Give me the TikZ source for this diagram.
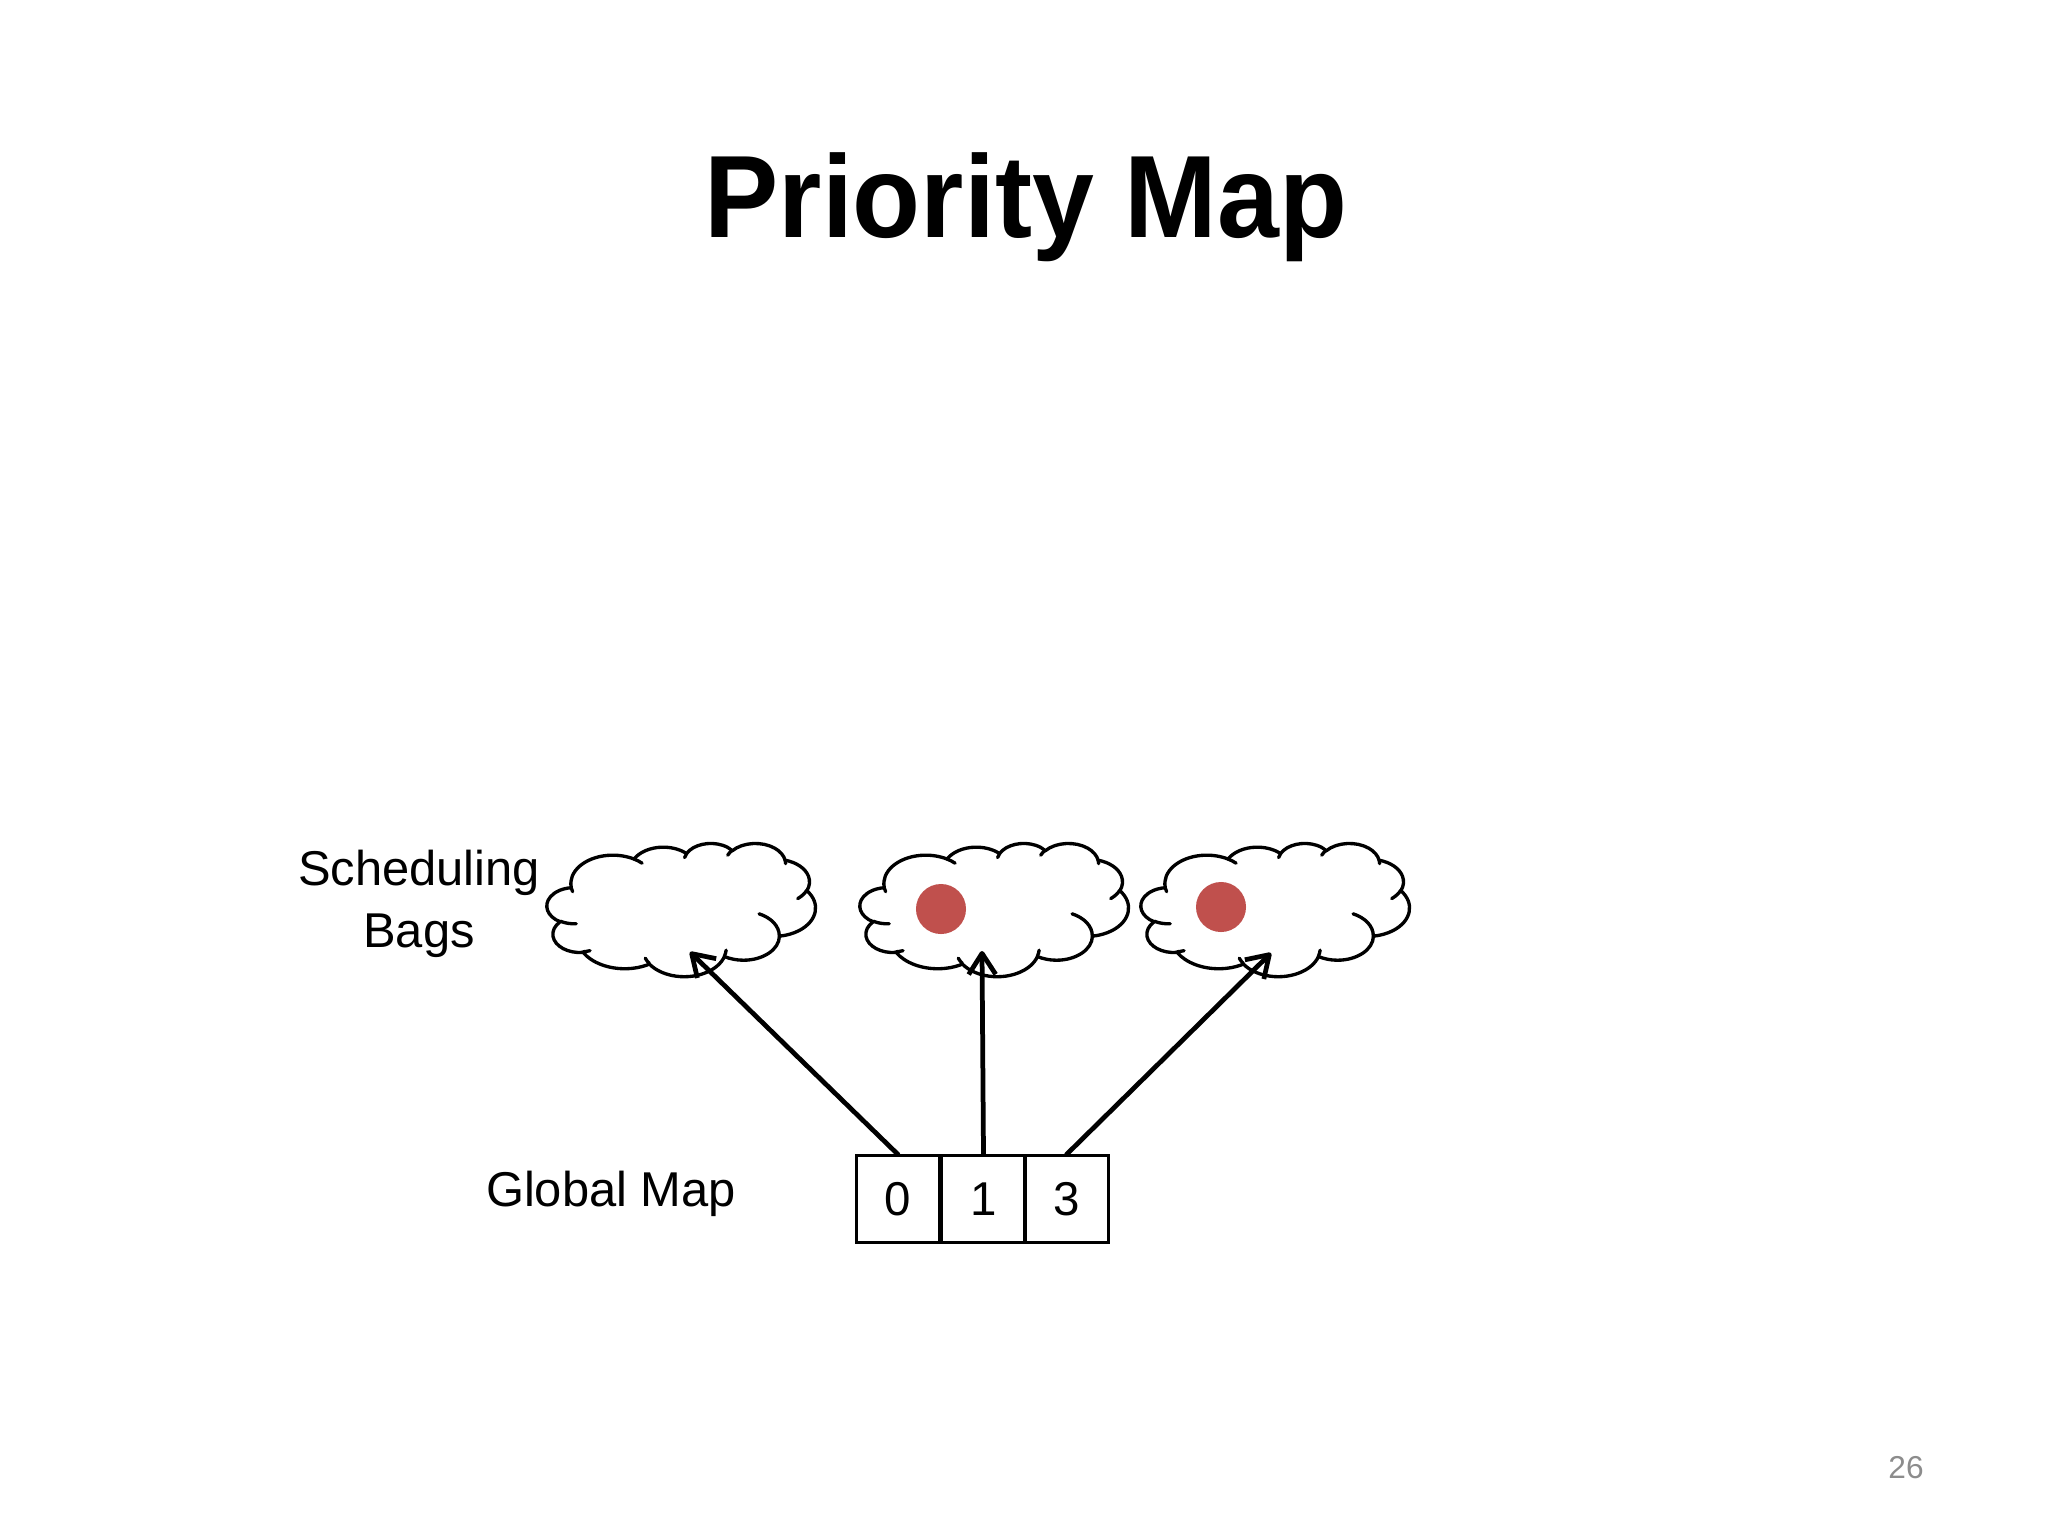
\documentclass[tikz,border=0pt]{standalone}
\usepackage{fontspec}
\setmainfont{Liberation Sans}
\newfontfamily\titlefont[FakeStretch=0.95]{Liberation Sans}
\usetikzlibrary{arrows.meta}
\definecolor{dotred}{HTML}{C0504D}
\definecolor{pagegray}{HTML}{8C8C8C}
\pgfmathdeclarefunction{vp}{3}{\pgfmathparse{atan2((#2)*sin(#1),(#3)*cos(#1))}}
\tikzset{
  ooarc/.style n args={4}{x radius=#1, y radius=#2,
    start angle={vp(#3,#1,#2)},
    end angle={vp(#3,#1,#2)+mod(vp(#3+#4,#1,#2)-vp(#3,#1,#2)+720,360)}},
  cloudline/.style={line width=0.95pt, line join=round, line cap=round},
  mapbox/.style={draw, line width=0.85pt, minimum height=0.86cm, inner sep=0pt,
    font=\fontsize{13.5pt}{15pt}\selectfont},
  arr/.style={line width=1.35pt, line cap=round, -{Straight Barb[length=0.21cm, width=0.27cm, line join=round]}},
  lbl/.style={font=\fontsize{13.9pt}{17.6pt}\selectfont, inner sep=0pt},
  reddot/.style={circle, fill=dotred, minimum size=0.5cm, inner sep=0pt},
}
\newcommand{\pptcloud}[1]{%
\begin{scope}[shift={#1}, x=0.0062037cm, y=-0.0030787cm]
\draw[cloudline, fill=white] (39.00,143.70)
  arc[ooarc={67.53}{91.90}{-190.48748}{123.78053}]
  arc[ooarc={53.33}{72.67}{-144.10238}{89.94523}]
  arc[ooarc={43.65}{59.45}{-145.80792}{99.72302}]
  arc[ooarc={48.57}{65.95}{-130.98607}{117.24173}]
  arc[ooarc={53.33}{72.73}{-78.70888}{109.02692}]
  arc[ooarc={67.75}{92.20}{-46.26725}{130.26900}]
  arc[ooarc={57.85}{78.67}{0.62502}{114.03333}]
  arc[ooarc={67.52}{92.15}{22.45160}{115.17255}]
  arc[ooarc={77.20}{105.43}{66.24263}{75.71102}]
  arc[ooarc={43.60}{59.18}{-274.94208}{146.73557}]
  arc[ooarc={43.45}{59.45}{-246.82850}{152.51885}]
  -- cycle;
\draw[cloudline]
  (46.93,261.77) arc[ooarc={43.45}{59.45}{86.74200}{26.42950}]
  (69.28,348.99) arc[ooarc={43.60}{59.18}{73.61047}{11.44747}]
  (164.78,390.90) arc[ooarc={67.52}{92.15}{137.62415}{14.08110}]
  (288.27,347.51) arc[ooarc={67.52}{92.15}{6.45327}{15.99835}]
  (341.29,229.54) arc[ooarc={57.85}{78.67}{-70.29235}{70.91737}]
  (417.98,153.54) arc[ooarc={53.33}{72.73}{30.31803}{27.75150}]
  (383.24,54.26) arc[ooarc={48.57}{65.95}{-13.74433}{14.85890}]
  (290.78,39.52) arc[ooarc={48.57}{65.95}{-149.18145}{18.19537}]
  (221.41,47.20) arc[ooarc={43.65}{59.45}{-163.49427}{17.68635}]
  (140.00,51.92) arc[ooarc={67.53}{91.90}{-66.70695}{12.31935}]
  (41.27,157.89) arc[ooarc={67.53}{91.90}{156.62363}{9.72635}];
\end{scope}}
\begin{document}
\begin{tikzpicture}[x=0.01cm, y=-0.01cm]
\fill[white] (0,0) rectangle (2048,1536);
\useasboundingbox (0,0) rectangle (2048,1536);

% title
\node[font=\titlefont\fontsize{33.3pt}{40pt}\selectfont\bfseries, anchor=base, inner sep=0pt]
  (title) at (1026,237) {Priority Map};

% clouds (scheduling bags)
\pptcloud{(547,843)}
\pptcloud{(860,843)}
\pptcloud{(1141,843)}

\node[reddot] (dot1) at (941,909) {};
\node[reddot] (dot2) at (1221,907) {};

% labels
\node[lbl, align=center, anchor=base] (sched) at (419,947) {Scheduling\\Bags};
\node[lbl, anchor=base] (gmap) at (611,1206) {Global Map};

% global map boxes
\node[mapbox, minimum width=0.82cm] (b0) at (898,1199) {0};
\node[mapbox, minimum width=0.83cm] (b1) at (983.5,1199) {1};
\node[mapbox, minimum width=0.83cm] (b3) at (1066.5,1199) {3};

% arrow tips
\coordinate (t1) at (690,952);
\coordinate (t2) at (982,951);
\coordinate (t3) at (1271,953);
\draw[arr] (b0.north) -- (t1);
\draw[arr] (b1.north) -- (t2);
\draw[arr] (b3.north) -- (t3);

% page number
\node[font=\fontsize{9pt}{11pt}\selectfont, text=pagegray, anchor=base, inner sep=0pt]
  (pnum) at (1906,1478) {26};
\end{tikzpicture}
\end{document}
